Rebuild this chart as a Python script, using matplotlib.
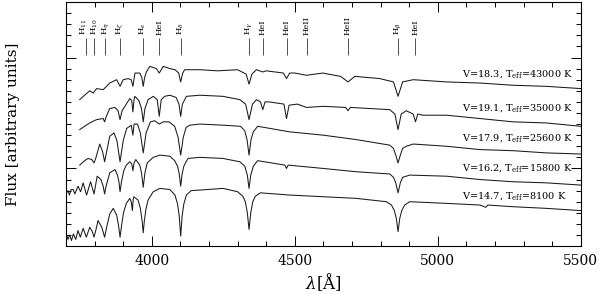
import numpy as np
import matplotlib
matplotlib.use("Agg")
import matplotlib.pyplot as plt
from matplotlib.ticker import MultipleLocator

plt.rcParams["font.family"] = ["DejaVu Serif"]
plt.rcParams["mathtext.fontset"] = "dejavuserif"

# spectra: (wavelength [A], flux [arbitrary])
star_43000 = [(3748, 1.62), (3765, 1.66), (3783, 1.70), (3795, 1.68), (3807, 1.72),
              (3830, 1.71), (3853, 1.77), (3877, 1.80), (3889, 1.74), (3900, 1.80),
              (3917, 1.81), (3928, 1.80), (3934, 1.74), (3941, 1.86), (3958, 1.86),
              (3965, 1.82), (3970, 1.74), (3975, 1.82), (3981, 1.87), (3993, 1.92),
              (4016, 1.90), (4026, 1.86), (4040, 1.92), (4063, 1.90), (4081, 1.89),
              (4094, 1.86), (4101, 1.78), (4108, 1.86), (4115, 1.89), (4168, 1.89),
              (4230, 1.88), (4300, 1.89), (4330, 1.85), (4340, 1.76), (4350, 1.85),
              (4366, 1.89), (4388, 1.87), (4400, 1.88), (4460, 1.86), (4471, 1.81),
              (4482, 1.86), (4500, 1.86), (4541, 1.84), (4598, 1.86), (4660, 1.83),
              (4686, 1.78), (4710, 1.83), (4797, 1.81), (4845, 1.78), (4861, 1.65),
              (4877, 1.78), (4914, 1.80), (5030, 1.78), (5147, 1.77), (5263, 1.75),
              (5380, 1.74), (5500, 1.72)]

star_35000 = [(3748, 1.35), (3765, 1.38), (3783, 1.41), (3807, 1.44), (3830, 1.45),
              (3835, 1.42), (3841, 1.47), (3853, 1.54), (3871, 1.55), (3882, 1.52),
              (3889, 1.44), (3896, 1.52), (3906, 1.56), (3923, 1.63), (3930, 1.61),
              (3934, 1.51), (3938, 1.62), (3941, 1.65), (3955, 1.61), (3964, 1.54),
              (3970, 1.42), (3976, 1.54), (3987, 1.62), (4005, 1.65), (4019, 1.62),
              (4026, 1.47), (4033, 1.62), (4045, 1.65), (4063, 1.66), (4085, 1.64),
              (4095, 1.58), (4101, 1.47), (4107, 1.58), (4121, 1.65), (4168, 1.66),
              (4249, 1.65), (4308, 1.62), (4328, 1.58), (4340, 1.44), (4352, 1.58),
              (4366, 1.62), (4380, 1.60), (4388, 1.53), (4396, 1.60), (4410, 1.60),
              (4462, 1.58), (4471, 1.45), (4480, 1.57), (4509, 1.58), (4541, 1.55),
              (4599, 1.56), (4678, 1.55), (4686, 1.52), (4694, 1.55), (4832, 1.53),
              (4850, 1.49), (4861, 1.35), (4872, 1.49), (4890, 1.52), (4914, 1.49),
              (4922, 1.42), (4930, 1.49), (4948, 1.48), (5030, 1.48), (5147, 1.45),
              (5263, 1.42), (5380, 1.41), (5500, 1.38)]

star_25600 = [(3748, 1.03), (3765, 1.07), (3777, 1.09), (3790, 1.08), (3798, 1.05),
              (3805, 1.10), (3818, 1.22), (3828, 1.15), (3835, 1.06), (3842, 1.15),
              (3853, 1.29), (3868, 1.32), (3878, 1.25), (3885, 1.13), (3889, 1.06),
              (3893, 1.13), (3900, 1.25), (3912, 1.36), (3928, 1.39), (3934, 1.30),
              (3938, 1.40), (3950, 1.40), (3960, 1.32), (3966, 1.21), (3970, 1.14),
              (3974, 1.21), (3980, 1.32), (3995, 1.42), (4010, 1.43), (4026, 1.40),
              (4040, 1.42), (4060, 1.42), (4080, 1.38), (4092, 1.28), (4097, 1.19),
              (4101, 1.12), (4105, 1.19), (4110, 1.28), (4120, 1.37), (4133, 1.39),
              (4168, 1.40), (4249, 1.39), (4310, 1.38), (4325, 1.34), (4333, 1.26),
              (4340, 1.12), (4347, 1.26), (4355, 1.33), (4370, 1.38), (4482, 1.33),
              (4599, 1.30), (4715, 1.26), (4832, 1.21), (4845, 1.18), (4853, 1.12),
              (4861, 1.05), (4869, 1.12), (4877, 1.18), (4890, 1.20), (4914, 1.22),
              (5030, 1.20), (5147, 1.17), (5263, 1.16), (5380, 1.14), (5500, 1.13)]

star_15800 = [(3702, 0.78), (3707, 0.80), (3712, 0.76), (3718, 0.81), (3725, 0.81),
              (3731, 0.77), (3742, 0.84), (3751, 0.79), (3760, 0.87), (3772, 0.76),
              (3786, 0.88), (3798, 0.77), (3809, 0.93), (3822, 0.90), (3830, 0.84),
              (3835, 0.77), (3841, 0.85), (3853, 0.96), (3871, 0.99), (3880, 0.94),
              (3885, 0.88), (3889, 0.79), (3894, 0.88), (3902, 0.98), (3911, 1.03),
              (3923, 1.06), (3930, 1.04), (3934, 0.98), (3938, 1.05), (3944, 1.08),
              (3958, 1.03), (3964, 0.96), (3970, 0.83), (3976, 0.96), (3984, 1.05),
              (4005, 1.10), (4028, 1.12), (4063, 1.11), (4080, 1.07), (4090, 1.02),
              (4096, 0.95), (4101, 0.84), (4106, 0.95), (4112, 1.02), (4120, 1.06),
              (4127, 1.09), (4168, 1.10), (4249, 1.09), (4308, 1.06), (4325, 1.02),
              (4334, 0.94), (4340, 0.82), (4346, 0.94), (4355, 1.02), (4370, 1.07),
              (4465, 1.03), (4471, 1.00), (4477, 1.03), (4599, 1.00), (4715, 0.97),
              (4832, 0.95), (4845, 0.92), (4853, 0.87), (4861, 0.78), (4869, 0.87),
              (4877, 0.92), (4902, 0.94), (5030, 0.93), (5147, 0.90), (5263, 0.88),
              (5380, 0.87), (5500, 0.85)]

star_8100 = [(3697, 0.37), (3702, 0.40), (3707, 0.36), (3713, 0.40), (3719, 0.35),
             (3726, 0.41), (3734, 0.36), (3742, 0.44), (3750, 0.38), (3760, 0.46),
             (3771, 0.38), (3783, 0.47), (3792, 0.43), (3798, 0.38), (3805, 0.45),
             (3812, 0.53), (3825, 0.47), (3835, 0.38), (3843, 0.48), (3853, 0.59),
             (3865, 0.64), (3877, 0.58), (3884, 0.48), (3889, 0.38), (3894, 0.48),
             (3901, 0.60), (3911, 0.685), (3923, 0.73), (3928, 0.70), (3932, 0.62),
             (3935, 0.72), (3937, 0.745), (3952, 0.715), (3960, 0.64), (3966, 0.53),
             (3970, 0.42), (3974, 0.53), (3980, 0.64), (3987, 0.715), (4005, 0.79),
             (4028, 0.82), (4063, 0.81), (4081, 0.76), (4090, 0.68), (4096, 0.57),
             (4101, 0.39), (4106, 0.57), (4112, 0.68), (4121, 0.76), (4138, 0.80),
             (4168, 0.805), (4249, 0.82), (4300, 0.79), (4318, 0.75), (4327, 0.70),
             (4334, 0.60), (4340, 0.45), (4346, 0.60), (4353, 0.70), (4362, 0.75),
             (4380, 0.78), (4482, 0.76), (4599, 0.745), (4715, 0.73), (4820, 0.70),
             (4838, 0.67), (4848, 0.62), (4855, 0.55), (4861, 0.43), (4867, 0.55),
             (4874, 0.62), (4884, 0.67), (4902, 0.70), (5030, 0.685), (5147, 0.67),
             (5168, 0.65), (5175, 0.67), (5263, 0.655), (5380, 0.64), (5500, 0.62)]

spectra = [star_43000, star_35000, star_25600, star_15800, star_8100]
star_labels = [r"V=18.3, T$_{\rm eff}$=43000 K",
               r"V=19.1, T$_{\rm eff}$=35000 K",
               r"V=17.9, T$_{\rm eff}$=25600 K",
               r"V=16.2, T$_{\rm eff}$=15800 K",
               r"V=14.7, T$_{\rm eff}$=8100 K"]
label_x = [5472, 5472, 5472, 5472, 5450]
label_y = [1.855, 1.544, 1.274, 1.003, 0.751]

# line identifications (text slightly nudged where labels crowd)
line_wl = [3771, 3798, 3835, 3889, 3970, 4026, 4101, 4340, 4388, 4471,
           4541, 4686, 4861, 4922]
line_text_wl = [3764, 3802, 3838, 3889, 3970, 4026, 4101, 4340, 4388, 4471,
                4541, 4686, 4861, 4922]
line_names = [r"H$_{11}$", r"H$_{10}$", r"H$_\eta$", r"H$_\zeta$", r"H$_\epsilon$",
              "HeI", r"H$_\delta$", r"H$_\gamma$", "HeI", "HeI",
              "HeII", "HeII", r"H$_\beta$", "HeI"]

fig = plt.figure(figsize=(6.0, 2.94), dpi=100)
ax = fig.add_axes([0.11, 0.163, 0.858, 0.83])

for spec in spectra:
    arr = np.array(spec)
    ax.plot(arr[:, 0], arr[:, 1], color="#1a1a1a", lw=0.75)

for x, y, s in zip(label_x, label_y, star_labels):
    ax.text(x, y, s, ha="right", va="center", fontsize=7)

ax.vlines(line_wl, 2.022, 2.175, color="#333333", lw=0.6)
for x, s in zip(line_text_wl, line_names):
    ax.text(x, 2.205, s, rotation=90, ha="center", va="bottom", fontsize=6)

ax.set_xlim(3700, 5500)
ax.set_ylim(0.3, 2.5)
ax.xaxis.set_major_locator(MultipleLocator(500))
ax.xaxis.set_minor_locator(MultipleLocator(100))
ax.yaxis.set_major_locator(MultipleLocator(1.0))
ax.yaxis.set_minor_locator(MultipleLocator(0.1))
ax.tick_params(which="both", direction="in", top=True, right=True, width=0.7)
ax.tick_params(which="major", length=7, labelsize=10, pad=6)
ax.tick_params(which="minor", length=3.5)
ax.set_yticklabels([])
for sp in ax.spines.values():
    sp.set_linewidth(0.8)

ax.set_xlabel(r"$\lambda$[$\rm\AA$]", fontsize=12, labelpad=2)
ax.set_ylabel("Flux [arbitrary units]", fontsize=11, labelpad=27)

fig.savefig("out.png", dpi=100)
